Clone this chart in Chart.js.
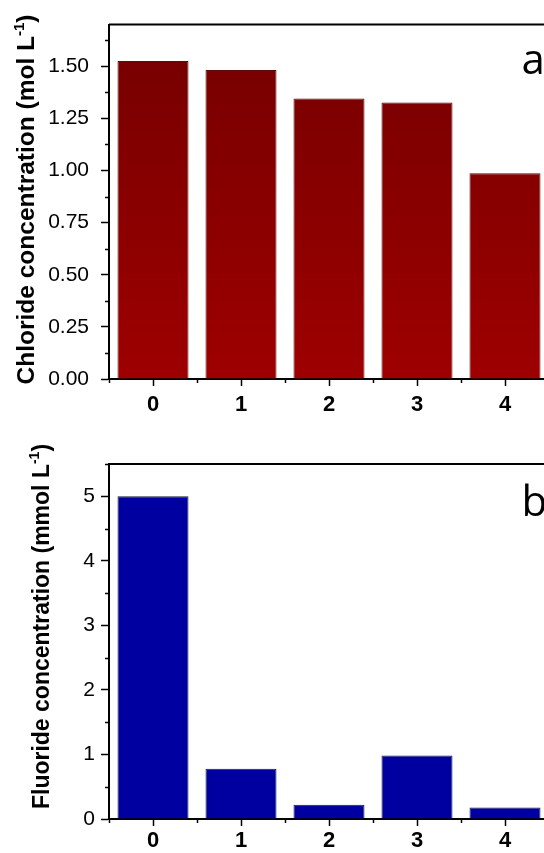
<!DOCTYPE html>
<html><head><meta charset="utf-8">
<script src="https://cdn.jsdelivr.net/npm/chart.js@4.4.1/dist/chart.umd.min.js"></script>
<style>
html,body{margin:0;padding:0;background:#fff;overflow:hidden;width:544px;height:853px;position:relative;}
.wrap{position:absolute;left:0;width:562px;}
#w1{top:0;height:430px;}
#w2{top:430px;height:423px;}
canvas{display:block;}
</style></head><body>
<div class="wrap" id="w1"><canvas id="c1" width="562" height="430"></canvas></div>
<div class="wrap" id="w2"><canvas id="c2" width="562" height="423"></canvas></div>
<script>
// ---- data ----
const categories = ['0', '1', '2', '3', '4'];
const chlorideValues = [1.525, 1.482, 1.346, 1.326, 0.987];
const fluorideValues = [5.0, 0.78, 0.22, 0.985, 0.18];
const chlorideTicks = [0, 0.25, 0.5, 0.75, 1.0, 1.25, 1.5];
const fluorideTicks = [0, 1, 2, 3, 4, 5];
const chlorideMax = 1.7;
const fluorideMax = 5.5;
const chlorideTitle = 'Chloride concentration (mol L';
const fluorideTitle = 'Fluoride concentration (mmol L';
const titleSup = '-1';
const titleEnd = ')';
const panelLabels = ['a', 'b'];

const SANS = '"Liberation Sans", Arial, sans-serif';
Chart.defaults.devicePixelRatio = 1;
Chart.defaults.font.family = SANS;
Chart.defaults.color = '#000';

// minor ticks + frame + titles + panel letter
const decorPlugin = {
  id: 'decor',
  afterDraw(chart, args, opts) {
    const ctx = chart.ctx;
    const ca = chart.chartArea;
    const xs = chart.scales.x, ys = chart.scales.y;
    ctx.save();
    // frame top/right
    ctx.strokeStyle = '#000';
    ctx.lineWidth = 2;
    ctx.beginPath();
    ctx.moveTo(ca.left, ca.top);
    ctx.lineTo(ca.right, ca.top);
    ctx.lineTo(ca.right, ca.bottom);
    ctx.stroke();
    // minor y ticks
    ctx.lineWidth = 1.5;
    const majors = opts.majors;
    const step = majors[1] - majors[0];
    ctx.beginPath();
    for (let v = majors[0] + step / 2; v <= ys.max + 1e-9; v += step) {
      const py = Math.round(ys.getPixelForValue(v)) + 0.5;
      ctx.moveTo(ca.left - 4, py);
      ctx.lineTo(ca.left, py);
    }
    // minor x ticks at category boundaries
    for (let i = -1; i < categories.length; i++) {
      const px = Math.round((xs.getPixelForValue(i) + xs.getPixelForValue(i + 1)) / 2) + 0.5;
      ctx.moveTo(px, ca.bottom);
      ctx.lineTo(px, ca.bottom + 4);
    }
    ctx.stroke();
    // y title (rotated) with superscript
    const fs = opts.titleSize;
    const mainFont = 'bold ' + fs + 'px ' + SANS;
    const supFont = 'bold ' + Math.round(fs * 0.62) + 'px ' + SANS;
    ctx.font = mainFont;
    const w1 = ctx.measureText(opts.title).width;
    const w3 = ctx.measureText(titleEnd).width;
    ctx.font = supFont;
    const w2 = ctx.measureText(titleSup).width;
    const total = w1 + w2 + w3;
    ctx.translate(opts.titleX, opts.titleCenterY);
    ctx.rotate(-Math.PI / 2);
    ctx.fillStyle = '#000';
    ctx.textBaseline = 'alphabetic';
    ctx.textAlign = 'left';
    const x0 = -total / 2;
    ctx.font = mainFont;
    ctx.fillText(opts.title, x0, 0);
    ctx.font = supFont;
    ctx.fillText(titleSup, x0 + w1, -fs * 0.42);
    ctx.font = mainFont;
    ctx.fillText(titleEnd, x0 + w1 + w2, 0);
    ctx.restore();
    // panel letter
    ctx.save();
    ctx.fillStyle = '#000';
    ctx.font = '42px "Open Sans", sans-serif';
    ctx.textAlign = 'left';
    ctx.textBaseline = 'alphabetic';
    ctx.fillText(opts.letter, ca.right - 27.5, ca.top + opts.letterDy);
    ctx.restore();
  }
};

function makeChart(canvasId, values, majors, yMax, fmt, bg, border, o) {
  return new Chart(document.getElementById(canvasId), {
    type: 'bar',
    data: {
      labels: categories,
      datasets: [{
        data: values,
        backgroundColor: bg,
        borderColor: border,
        borderWidth: 1,
        barPercentage: 0.807,
        categoryPercentage: 1.0
      }]
    },
    options: {
      responsive: false,
      animation: false,
      events: [],
      layout: { padding: { top: o.padTop, left: 0, right: 562 - 549, bottom: 0 } },
      plugins: {
        legend: { display: false },
        tooltip: { enabled: false },
        decor: { majors: majors, title: o.title, titleSize: o.titleSize, titleX: o.titleX, titleCenterY: o.titleCenterY, letter: o.letter, letterDy: o.letterDy }
      },
      scales: {
        x: {
          type: 'category',
          offset: true,
          grid: { offset: false, drawOnChartArea: false, drawTicks: true, tickLength: 7, tickWidth: 1.5, tickColor: '#000' },
          border: { display: true, color: '#000', width: 2 },
          ticks: { color: '#000', font: { family: SANS, size: 22, weight: 'bold' }, padding: o.xPad, maxRotation: 0, autoSkip: false },
          afterFit: s => { s.height = o.xHeight; }
        },
        y: {
          min: 0,
          max: yMax,
          afterBuildTicks: s => { s.ticks = majors.map(v => ({ value: v })); },
          grid: { drawOnChartArea: false, drawTicks: true, tickLength: 8, tickWidth: 1.5, tickColor: '#000' },
          border: { display: true, color: '#000', width: 2 },
          ticks: { color: '#000', font: { family: SANS, size: 21, weight: 'normal' }, padding: o.yPad, callback: fmt },
          afterFit: s => { s.width = 109; }
        }
      }
    },
    plugins: [decorPlugin]
  });
}

const redGradient = (context) => {
  const ca = context.chart.chartArea;
  if (!ca) return '#8a0000';
  const g = context.chart.ctx.createLinearGradient(0, ca.top, 0, ca.bottom);
  g.addColorStop(0, '#740000');
  g.addColorStop(1, '#9e0000');
  return g;
};

makeChart('c1', chlorideValues, chlorideTicks, chlorideMax, v => Number(v).toFixed(2),
  redGradient, '#5a0a0a',
  { padTop: 24, xHeight: 51, xPad: 6, yPad: 12, title: chlorideTitle, titleSize: 24.5, titleX: 34, titleCenterY: 199.5, letter: panelLabels[0], letterDy: 49 });

makeChart('c2', fluorideValues, fluorideTicks, fluorideMax, v => String(v),
  '#0000a0', '#1c1c3c',
  { padTop: 34, xHeight: 34, xPad: 2, yPad: 6, title: fluorideTitle, titleSize: 23, titleX: 48.5, titleCenterY: 196.5, letter: panelLabels[1], letterDy: 52 });
</script>
</body></html>
